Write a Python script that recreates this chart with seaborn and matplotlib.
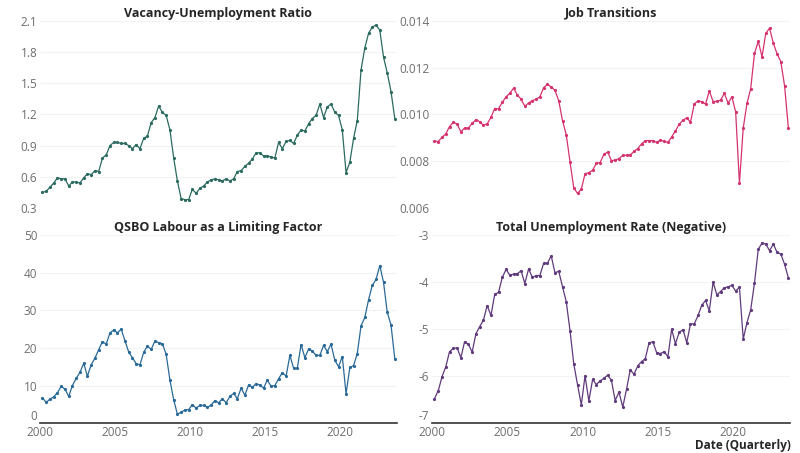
import numpy as np
import pandas as pd
import matplotlib
matplotlib.use("Agg")
import matplotlib.pyplot as plt
import matplotlib.dates as mdates
import seaborn as sns

# quarterly observations, 2000Q1 - 2023Q3
dates = pd.date_range("2000-03-01", periods=95, freq="3MS")

vu_ratio = [0.45, 0.46, 0.50, 0.54, 0.59, 0.58, 0.58, 0.51, 0.55, 0.55,
            0.54, 0.59, 0.63, 0.62, 0.66, 0.65, 0.78, 0.81, 0.90, 0.93,
            0.93, 0.92, 0.92, 0.90, 0.87, 0.91, 0.87, 0.97, 0.99, 1.12,
            1.17, 1.28, 1.22, 1.19, 1.05, 0.78, 0.56, 0.39, 0.38, 0.38,
            0.48, 0.44, 0.49, 0.51, 0.55, 0.57, 0.58, 0.57, 0.56, 0.58,
            0.56, 0.58, 0.65, 0.66, 0.70, 0.73, 0.77, 0.83, 0.83, 0.80,
            0.80, 0.79, 0.78, 0.93, 0.87, 0.94, 0.95, 0.92, 1.00, 1.05,
            1.04, 1.11, 1.16, 1.19, 1.30, 1.17, 1.27, 1.30, 1.22, 1.19,
            1.05, 0.64, 0.74, 0.97, 1.14, 1.63, 1.84, 1.98, 2.04, 2.06,
            2.01, 1.75, 1.60, 1.42, 1.16]

job_transitions = [0.00886, 0.00884, 0.00902, 0.00917, 0.00948, 0.00966, 0.00959, 0.00925, 0.00942, 0.00941,
                   0.00962, 0.00977, 0.00969, 0.00953, 0.00960, 0.00987, 0.01025, 0.01024, 0.01052, 0.01075,
                   0.01090, 0.01112, 0.01083, 0.01065, 0.01035, 0.01049, 0.01059, 0.01065, 0.01075, 0.01114,
                   0.01129, 0.01117, 0.01103, 0.01058, 0.00973, 0.00912, 0.00798, 0.00685, 0.00662, 0.00681,
                   0.00746, 0.00751, 0.00761, 0.00791, 0.00794, 0.00829, 0.00839, 0.00802, 0.00805, 0.00811,
                   0.00825, 0.00825, 0.00826, 0.00842, 0.00854, 0.00874, 0.00888, 0.00888, 0.00888, 0.00880,
                   0.00890, 0.00885, 0.00880, 0.00904, 0.00929, 0.00958, 0.00975, 0.00986, 0.00966, 0.01044,
                   0.01058, 0.01054, 0.01044, 0.01100, 0.01055, 0.01056, 0.01061, 0.01090, 0.01048, 0.01075,
                   0.01011, 0.00705, 0.00942, 0.01047, 0.01110, 0.01261, 0.01312, 0.01246, 0.01346, 0.01369,
                   0.01304, 0.01259, 0.01226, 0.01122, 0.00942]

qsbo_labour = [6.7, 5.5, 6.4, 7.0, 8.1, 9.8, 9.0, 7.1, 10.0, 11.9,
               13.5, 15.9, 12.5, 15.5, 17.3, 19.5, 21.7, 21.0, 24.0, 24.8,
               24.0, 25.0, 21.9, 18.9, 17.4, 15.8, 15.5, 18.8, 20.5, 19.6,
               21.8, 21.4, 21.1, 18.3, 11.4, 6.2, 2.4, 2.9, 3.5, 3.6,
               4.9, 4.0, 4.7, 4.7, 4.2, 4.8, 6.0, 5.4, 6.5, 5.4,
               7.1, 7.9, 6.5, 9.3, 7.4, 10.2, 9.5, 10.5, 10.1, 9.3,
               11.5, 9.8, 10.0, 11.8, 13.4, 12.5, 18.0, 14.6, 14.6, 20.9,
               17.4, 19.7, 19.2, 18.0, 18.0, 20.7, 19.0, 21.0, 16.7, 15.0,
               17.7, 7.8, 14.8, 15.3, 18.5, 25.9, 28.1, 32.8, 36.6, 38.2,
               41.9, 37.4, 29.5, 26.1, 17.1]

unemp_neg = [-6.48, -6.31, -6.01, -5.80, -5.48, -5.41, -5.40, -5.61, -5.27, -5.32,
             -5.49, -5.10, -4.95, -4.81, -4.50, -4.71, -4.26, -4.22, -3.90, -3.73,
             -3.85, -3.83, -3.82, -3.76, -4.03, -3.72, -3.90, -3.86, -3.86, -3.60,
             -3.60, -3.44, -3.80, -3.77, -4.10, -4.42, -5.03, -5.74, -6.19, -6.61,
             -5.99, -6.53, -6.07, -6.18, -6.10, -6.05, -5.98, -6.09, -6.52, -6.34,
             -6.66, -6.28, -5.87, -5.96, -5.78, -5.69, -5.63, -5.29, -5.27, -5.50,
             -5.52, -5.48, -5.59, -5.00, -5.31, -5.07, -5.01, -5.29, -4.89, -4.89,
             -4.71, -4.49, -4.39, -4.61, -4.00, -4.27, -4.20, -4.12, -4.10, -4.07,
             -4.19, -4.11, -5.21, -4.86, -4.59, -4.02, -3.30, -3.17, -3.19, -3.33,
             -3.19, -3.37, -3.40, -3.62, -3.91]

panels = [
    ("Vacancy-Unemployment Ratio", vu_ratio, "#2c6b60", (0.3, 2.1), np.arange(0.3, 2.11, 0.3), "{:.1f}"),
    ("Job Transitions", job_transitions, "#d4336f", (0.006, 0.014), np.arange(0.006, 0.01401, 0.002), "{:.3f}"),
    ("QSBO Labour as a Limiting Factor", qsbo_labour, "#2a6a98", (0, 50), np.arange(0, 51, 10), "{:.0f}"),
    ("Total Unemployment Rate (Negative)", unemp_neg, "#603a7c", (-7, -3), np.arange(-7, -2.9, 1), "{:.0f}"),
]

sns.set_style("white")
plt.rcParams["font.family"] = ["Open Sans", "DejaVu Sans"]

fig = plt.figure(figsize=(8, 4.53), dpi=100)
positions = [
    [0.050, 0.541, 0.446, 0.413],
    [0.540, 0.541, 0.448, 0.413],
    [0.050, 0.066, 0.446, 0.415],
    [0.540, 0.066, 0.448, 0.415],
]

for i, (title, vals, color, ylim, yticks, fmt) in enumerate(panels):
    ax = fig.add_axes(positions[i])
    df = pd.DataFrame({"date": dates, "value": vals})
    sns.lineplot(data=df, x="date", y="value", ax=ax, color=color, lw=0.9,
                 marker="o", markersize=2.3, markeredgewidth=0)
    ax.set_ylim(*ylim)
    ax.set_yticks(yticks)
    ax.set_yticklabels([fmt.format(t) for t in yticks])
    ax.set_xlim(pd.Timestamp("2000-01-01"), pd.Timestamp("2023-10-20"))
    ax.xaxis.set_major_locator(mdates.YearLocator(5))
    ax.xaxis.set_major_formatter(mdates.DateFormatter("%Y"))
    ax.grid(axis="y", color="#f3f3f3", lw=0.8)
    ax.set_axisbelow(True)
    for s in ["top", "right", "left"]:
        ax.spines[s].set_visible(False)
    ax.tick_params(axis="y", length=0, labelsize=8.5, labelcolor="#6e6e6e", pad=2)
    ax.tick_params(axis="x", length=0, labelsize=8.5, labelcolor="#6e6e6e", pad=2)
    ax.set_title(title, fontsize=9, fontweight="bold", pad=3)
    ax.set_ylabel("")
    ax.set_xlabel("")
    if i < 2:
        ax.spines["bottom"].set_visible(False)
        ax.set_xticklabels([])
    else:
        ax.spines["bottom"].set_color("#333333")
        ax.spines["bottom"].set_linewidth(1.2)
        # lift the lowest y label a touch so it clears the year labels
        ax.get_yticklabels()[0].set_verticalalignment("bottom")
    if i == 3:
        ax.set_xlabel("Date (Quarterly)", fontsize=8.5, fontweight="bold")
        ax.xaxis.set_label_coords(1.0, -0.085)
        ax.xaxis.label.set_horizontalalignment("right")

fig.savefig("out.png", dpi=100)
